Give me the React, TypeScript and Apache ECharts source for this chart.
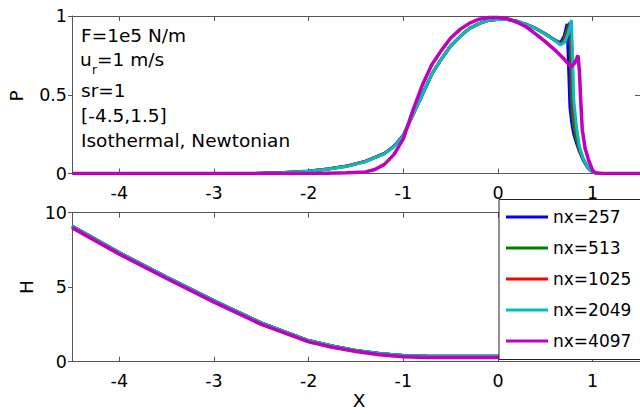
import React, { useEffect, useRef } from "react";
import * as echarts from "echarts";

const names = ["nx=257", "nx=513", "nx=1025", "nx=2049", "nx=4097"];
const colors = ["#0000FF", "#008000", "#FF0000", "#00BFBF", "#BF00BF"];
const xTicks = [-4, -3, -2, -1, 0, 1];

const pX = [-4.5, -2.6, -2.3, -2.0, -1.8, -1.6, -1.4, -1.2, -1.1, -1.0, -0.9, -0.8, -0.7, -0.6, -0.5, -0.4, -0.3, -0.2, -0.1, 0.0, 0.1, 0.2, 0.3, 0.4, 0.5, 0.6, 0.66, 0.70, 0.73, 0.76, 0.775, 0.785, 0.80, 0.83, 0.86, 0.9, 0.95, 1.0, 1.05, 1.1, 1.5];
const p257 = [0, 0, 0.005, 0.016, 0.029, 0.047, 0.078, 0.128, 0.173, 0.243, 0.372, 0.50, 0.63, 0.725, 0.81, 0.87, 0.922, 0.952, 0.972, 0.98, 0.978, 0.967, 0.946, 0.921, 0.887, 0.848, 0.83, 0.875, 0.95, 0.42, 0.34, 0.30, 0.25, 0.19, 0.14, 0.085, 0.035, 0.008, 0.001, 0, 0];
const p513 = [0, 0, 0.005, 0.015, 0.028, 0.046, 0.077, 0.127, 0.172, 0.242, 0.371, 0.50, 0.63, 0.725, 0.81, 0.87, 0.922, 0.952, 0.972, 0.98, 0.978, 0.967, 0.946, 0.921, 0.886, 0.846, 0.822, 0.855, 0.91, 0.96, 0.50, 0.38, 0.30, 0.21, 0.15, 0.09, 0.038, 0.009, 0.001, 0, 0];
const p1025 = [0, 0, 0.004, 0.015, 0.028, 0.046, 0.076, 0.126, 0.171, 0.241, 0.371, 0.50, 0.63, 0.725, 0.81, 0.87, 0.922, 0.952, 0.972, 0.98, 0.978, 0.967, 0.945, 0.92, 0.885, 0.845, 0.818, 0.84, 0.89, 0.95, 0.90, 0.60, 0.40, 0.26, 0.16, 0.092, 0.039, 0.01, 0.002, 0, 0];
const p2049 = [0, 0, 0.004, 0.014, 0.027, 0.045, 0.075, 0.125, 0.17, 0.24, 0.37, 0.50, 0.63, 0.725, 0.81, 0.87, 0.922, 0.952, 0.972, 0.98, 0.978, 0.967, 0.945, 0.92, 0.885, 0.845, 0.816, 0.83, 0.87, 0.93, 0.975, 0.80, 0.47, 0.29, 0.17, 0.095, 0.04, 0.01, 0.002, 0, 0];

const pX4097 = [-4.5, -2.0, -1.8, -1.6, -1.4, -1.3, -1.2, -1.1, -1.0, -0.9, -0.8, -0.7, -0.6, -0.5, -0.4, -0.3, -0.2, -0.1, 0.0, 0.1, 0.2, 0.3, 0.4, 0.5, 0.6, 0.7, 0.77, 0.81, 0.845, 0.86, 0.875, 0.89, 0.92, 0.96, 1.0, 1.03, 1.1, 1.5];
const p4097 = [0, 0, 0.002, 0.004, 0.01, 0.025, 0.058, 0.12, 0.22, 0.40, 0.56, 0.69, 0.78, 0.86, 0.915, 0.955, 0.98, 0.99, 0.99, 0.983, 0.96, 0.93, 0.885, 0.837, 0.785, 0.725, 0.678, 0.70, 0.75, 0.65, 0.45, 0.28, 0.16, 0.08, 0.02, 0.004, 0, 0];

const hX = [-4.5, -4, -3.5, -3, -2.5, -2, -1.75, -1.5, -1.25, -1, -0.75, -0.5, 0, 0.5, 0.9, 1.0, 1.1, 1.2, 1.3, 1.4, 1.5];
const hLow = [9.1, 7.32, 5.68, 4.1, 2.6, 1.42, 1.05, 0.76, 0.55, 0.42, 0.38, 0.37, 0.37, 0.37, 0.36, 0.36, 0.38, 0.42, 0.48, 0.56, 0.66];
const h4097 = [9.0, 7.22, 5.58, 4.0, 2.5, 1.33, 0.97, 0.68, 0.47, 0.33, 0.29, 0.28, 0.28, 0.28, 0.27, 0.25, 0.28, 0.34, 0.42, 0.51, 0.62];

const axisColor = "#555";
const FONT = "DejaVu Sans";

function pairs(xs: number[], ys: number[]) {
  return xs.map((x, i) => [x, ys[i]]);
}

export default function App() {
  const ref = useRef<HTMLDivElement>(null);
  useEffect(() => {
    document.body.style.margin = "0";
    const chart = echarts.init(ref.current!, null, { renderer: "svg" });
    const lineStyle = { color: axisColor, width: 1 };
    const mkX = (gi: number, pos: string, labels: boolean) => ({
      type: "value",
      gridIndex: gi,
      position: pos,
      min: -4.5,
      max: 1.5,
      axisLine: { show: true, onZero: false, lineStyle },
      axisTick: { show: true, inside: true, length: 5, customValues: xTicks, lineStyle },
      axisLabel: {
        show: labels,
        customValues: xTicks,
        margin: 10,
        color: "#000",
        fontSize: 17.5,
        fontFamily: FONT,
      },
      splitLine: { show: false },
    });
    const mkY = (gi: number, pos: string, max: number, interval: number, labels: boolean) => ({
      type: "value",
      gridIndex: gi,
      position: pos,
      min: 0,
      max,
      interval,
      axisLine: { show: true, onZero: false, lineStyle },
      axisTick: { show: true, inside: !labels, length: labels ? 4 : 5, lineStyle },
      axisLabel: { show: labels, margin: 5, color: "#000", fontSize: 17.5, fontFamily: FONT },
      splitLine: { show: false },
    });
    const topData = [pairs(pX, p257), pairs(pX, p513), pairs(pX, p1025), pairs(pX, p2049), pairs(pX4097, p4097)];
    const botData = [pairs(hX, hLow), pairs(hX, hLow), pairs(hX, hLow), pairs(hX, hLow), pairs(hX, h4097)];
    const series: any[] = [];
    names.forEach((n, i) => {
      series.push({
        name: n,
        type: "line",
        xAxisIndex: 0,
        yAxisIndex: 0,
        data: topData[i],
        symbol: "none",
        color: colors[i],
        lineStyle: { width: i === 4 ? 3.5 : 3, color: colors[i] },
      });
    });
    names.forEach((n, i) => {
      series.push({
        name: n,
        type: "line",
        xAxisIndex: 2,
        yAxisIndex: 2,
        data: botData[i],
        symbol: "none",
        color: colors[i],
        lineStyle: { width: i === 4 ? 3.5 : 3, color: colors[i] },
      });
    });
    const txt = (text: string, x: number, y: number, size = 18.5, extra: any = {}) => ({
      type: "text",
      x,
      y,
      z: 10,
      ...extra,
      style: {
        text,
        fill: "#000",
        fontSize: size,
        fontFamily: FONT,
        verticalAlign: "middle",
        align: extra.align || "left",
      },
    });
    chart.setOption({
      animation: false,
      grid: [
        { left: 72, top: 16, width: 569, height: 157.5 },
        { left: 72, top: 212.7, width: 569, height: 149 },
      ],
      xAxis: [mkX(0, "bottom", true), mkX(0, "top", false), mkX(1, "bottom", true), mkX(1, "top", false)],
      yAxis: [mkY(0, "left", 1, 0.5, true), mkY(0, "right", 1, 0.5, false), mkY(1, "left", 10, 5, true), mkY(1, "right", 10, 5, false)],
      legend: {
        data: names,
        orient: "vertical",
        left: 499,
        top: 199.5,
        padding: [9, 30, 10, 7],
        icon: "rect",
        itemWidth: 42,
        itemHeight: 3,
        itemGap: 14,
        backgroundColor: "#fff",
        borderColor: "#222",
        borderWidth: 1,
        borderRadius: 0,
        textStyle: { fontSize: 17, fontFamily: FONT, color: "#000", lineHeight: 14 },
        z: 20,
      },
      graphic: [
        txt("F=1e5 N/m", 81, 35),
        txt("u", 80, 59),
        txt("r", 92, 70, 12),
        txt("=1 m/s", 97, 59),
        txt("sr=1", 81, 90),
        txt("[-4.5,1.5]", 81, 115),
        txt("Isothermal, Newtonian", 81, 140),
        txt("P", 16, 96, 18.5, { rotation: Math.PI / 2, align: "center" }),
        txt("H", 26, 287, 18.5, { rotation: Math.PI / 2, align: "center" }),
        txt("X", 359, 400, 18.5, { align: "center" }),
      ],
      series,
    });
    return () => chart.dispose();
  }, []);
  return <div ref={ref} style={{ width: 640, height: 414 }} />;
}
